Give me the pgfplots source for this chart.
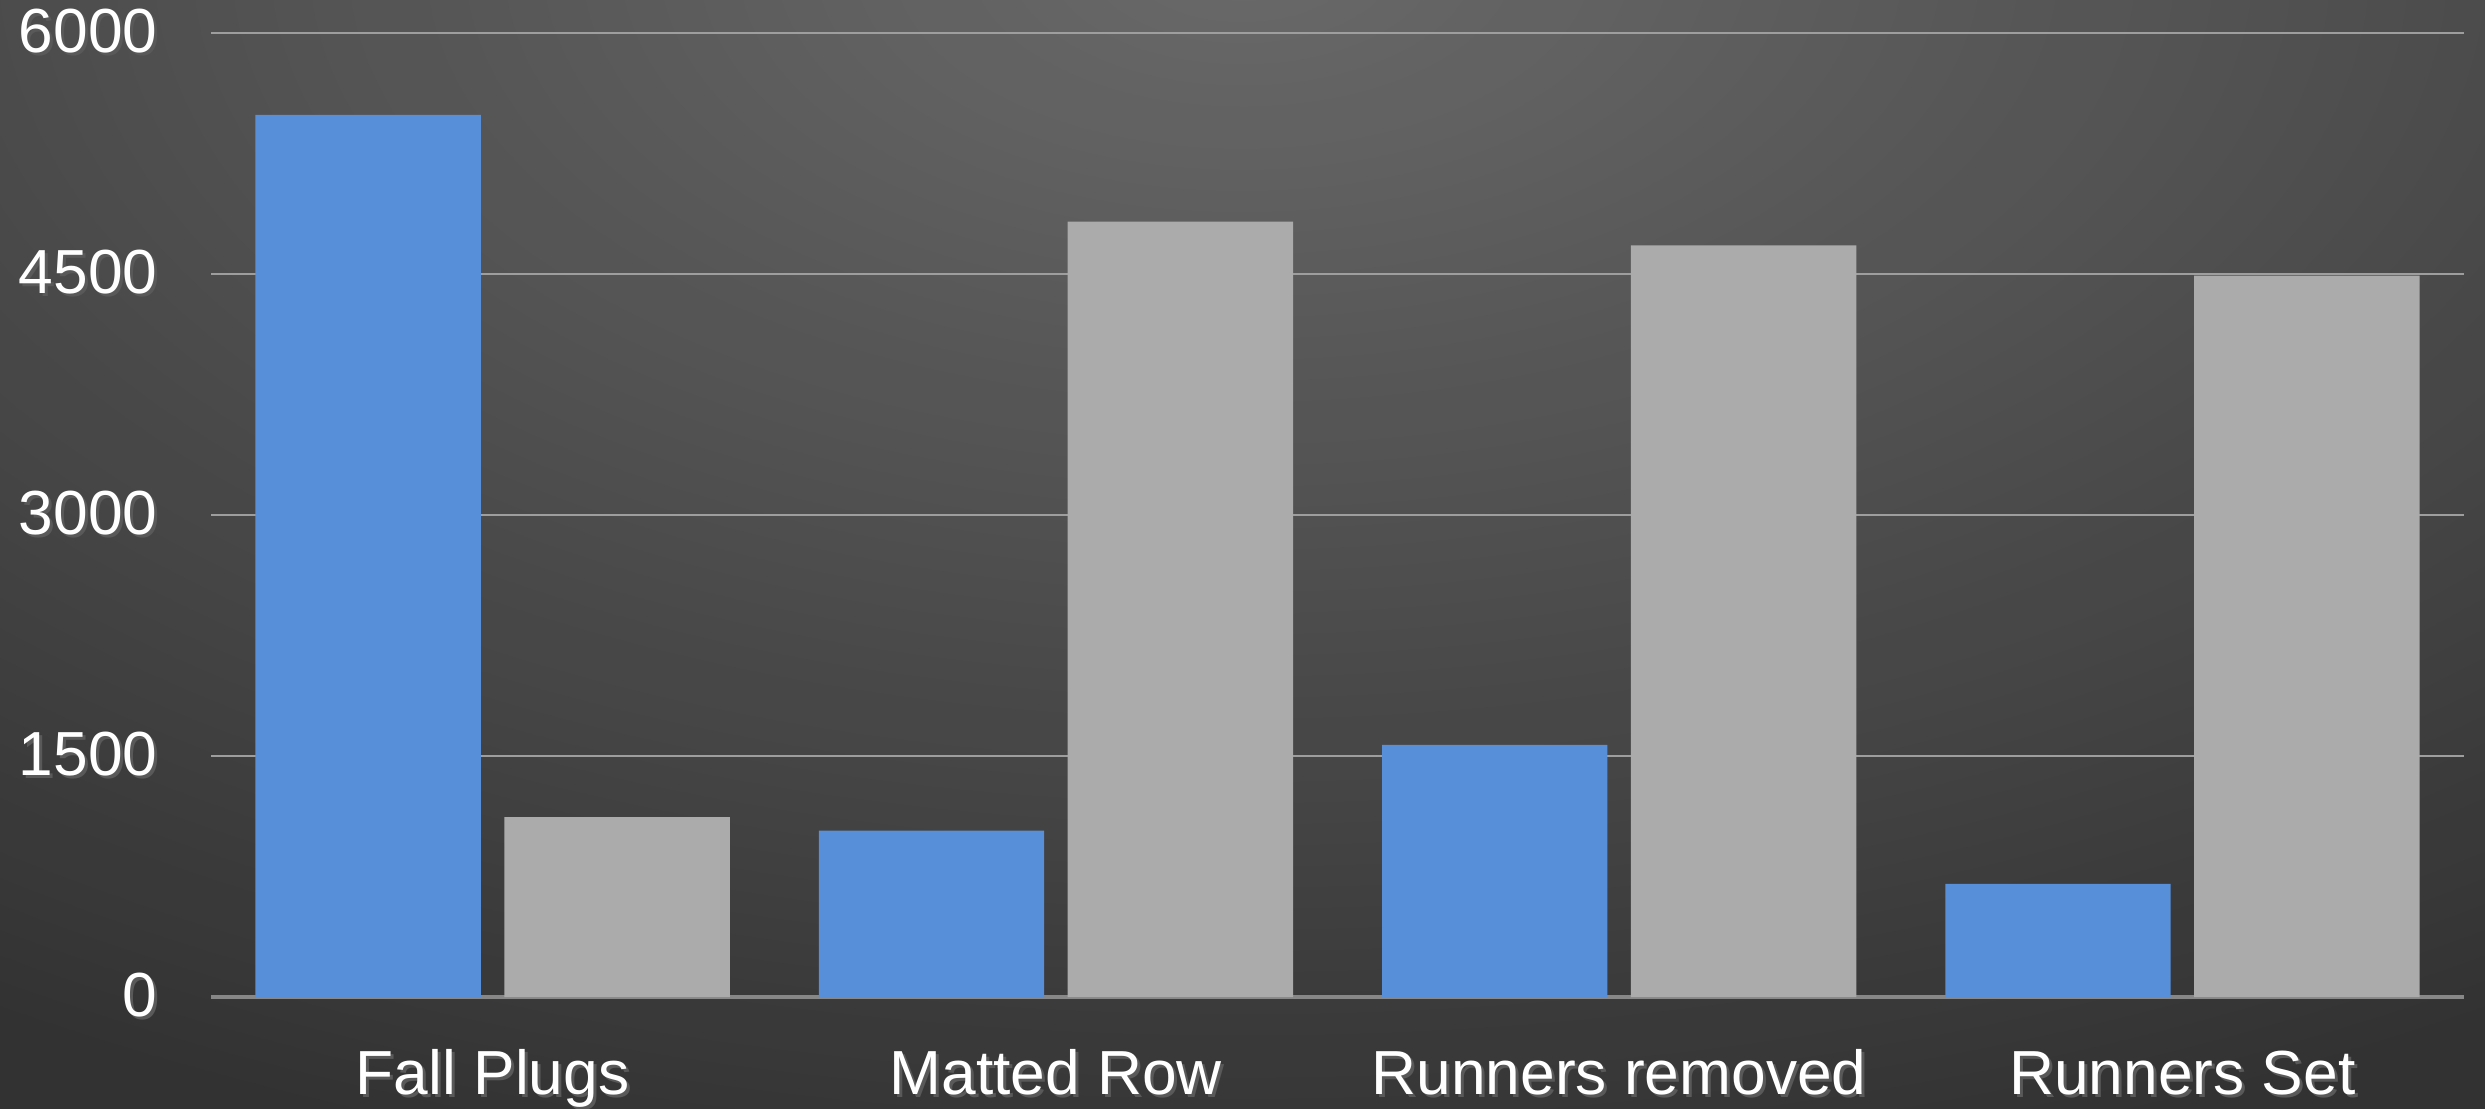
\documentclass[border=0pt]{standalone}
\usepackage{fontspec}
\setmainfont{Liberation Sans}
\usepackage{pgfplots}
\pgfplotsset{compat=1.18}
\definecolor{barblue}{RGB}{87,144,217}
\definecolor{bargray}{RGB}{171,171,171}
\definecolor{gridgray}{RGB}{158,158,158}
\definecolor{basegray}{RGB}{135,135,135}
\definecolor{bgA}{RGB}{106,106,106}
\definecolor{bgF}{RGB}{50,50,50}
\newcommand{\sh}[1]{\makebox[0pt][l]{\hspace{0.9bp}\raisebox{-0.9bp}{\textcolor{black!65}{#1}}}#1}

\begin{document}
\begin{tikzpicture}
\useasboundingbox (0,0) rectangle (745.5bp,332.7bp);
% background glow, lighter at the top centre
\begin{scope}
\clip (0,0) rectangle (745.5bp,332.7bp);
\fill[bgF] (0,0) rectangle (745.5bp,332.7bp);
\foreach \i [evaluate=\i as \d using 1-\i/60, evaluate=\i as \p using 100*\i/60] in {0,...,59}
  \fill[bgA!\p!bgF] (372.75bp,345bp) ellipse [x radius=\d*700bp, y radius=\d*380bp];
\end{scope}
\begin{axis}[
    at={(63.3bp,33.6bp)}, anchor=south west,
    scale only axis,
    width=675.9bp, height=289.2bp,
    xmin=-0.5, xmax=3.5, ymin=0, ymax=6000,
    axis line style={draw=none},
    major tick length=0pt,
    xtick={0,1,2,3},
    xticklabels={\sh{Fall Plugs}, \sh{Matted Row}, \sh{Runners removed}, \sh{Runners Set}},
    ytick={1500,3000,4500,6000},
    yticklabel={\sh{\pgfmathprintnumber{\tick}}},
    extra y ticks={0},
    extra y tick style={grid style={basegray, line width=1.0bp}},
    ymajorgrids,
    grid style={gridgray, line width=0.7bp},
    tick label style={font=\fontsize{18.75}{22}\selectfont, text=white},
    yticklabel style={anchor=east, inner sep=0pt, xshift=-15.9bp},
    xticklabel style={anchor=base, yshift=-29.1bp},
    /pgf/number format/assume math mode=true,
    /pgf/number format/1000 sep={},
    scaled y ticks=false,
    ybar, bar width=0.4,
    clip=false
]
% blue series
\addplot[draw=none, fill=barblue, bar shift=-0.221] coordinates {(0,5490) (1,1036) (2,1569) (3,704)};
% gray series
\addplot[draw=none, fill=bargray, bar shift=0.221] coordinates {(0,1120) (1,4826) (2,4678) (3,4490)};
\end{axis}
\end{tikzpicture}
\end{document}
